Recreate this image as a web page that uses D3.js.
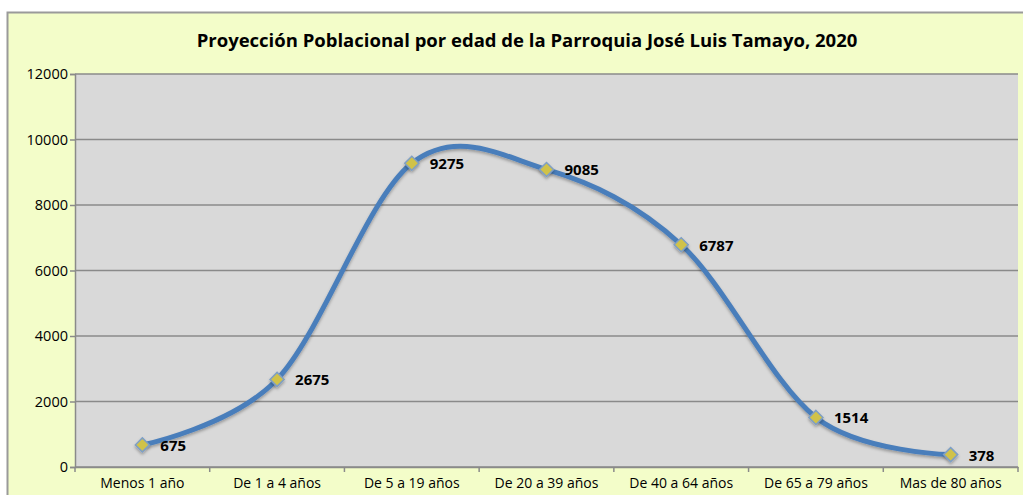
<!DOCTYPE html>
<html>
<head>
<meta charset="utf-8">
<script src="https://cdn.jsdelivr.net/npm/d3@7"></script>
<style>
	body { margin: 0; background: #ffffff; }
	svg { display: block; font-family: "Open Sans", "Noto Sans", sans-serif; }
	.tick text { fill: #000; }
</style>
</head>
<body>
<svg id="chart" width="1023" height="495"></svg>
<script>
var categories = ["Menos 1 año ", "De 1 a 4 años ", "De 5 a 19 años ", "De 20 a 39 años ", "De 40 a 64 años ", "De 65 a 79 años ", "Mas de 80 años "];
var poblacion = [675, 2675, 9275, 9085, 6787, 1514, 378];
var yTicks = [0, 2000, 4000, 6000, 8000, 10000, 12000];
var title = "Proyección Poblacional por edad de la Parroquia José Luis Tamayo, 2020 ";

var svg = d3.select("#chart");
var plotLeft = 75, plotRight = 1018, plotTop = 74, plotBottom = 467;
var fuente = "'Open Sans', 'Noto Sans', sans-serif";

// fondo del grafico
svg.append("rect")
	.attr("x", 7.5).attr("y", 12.5)
	.attr("width", 1030).attr("height", 500)
	.attr("fill", "#f3fdc9")
	.attr("stroke", "#9a9a9a")
	.attr("stroke-width", 2);

var x = d3.scaleBand().domain(categories).range([plotLeft, plotRight]);
var y = d3.scaleLinear().domain([0, 12000]).range([plotBottom, plotTop]);

svg.append("rect")
	.attr("x", plotLeft).attr("y", plotTop)
	.attr("width", plotRight - plotLeft).attr("height", plotBottom - plotTop)
	.attr("fill", "#d9d9d9");

// lineas de division
svg.append("g")
	.selectAll("line")
	.data(yTicks)
	.enter()
	.append("line")
	.attr("x1", plotLeft).attr("x2", plotRight)
	.attr("y1", function(d){ return y(d); })
	.attr("y2", function(d){ return y(d); })
	.attr("stroke", "#8a8a8a")
	.attr("stroke-width", 1.5);

var yAxis = svg.append("g")
	.attr("transform", "translate(" + plotLeft + ",0)")
	.call(d3.axisLeft(y).tickValues(yTicks).tickSize(5).tickPadding(2).tickFormat(function(d){ return d + " "; }));
yAxis.attr("font-family", fuente).attr("font-size", 14.5);

var xAxis = svg.append("g")
	.attr("transform", "translate(0," + plotBottom + ")")
	.call(d3.axisBottom(x).tickSize(0).tickPadding(11));
xAxis.attr("font-family", fuente).attr("font-size", 14);

// marcas del eje x en los bordes de cada categoria
svg.append("g")
	.selectAll("line")
	.data(categories.concat(["fin"]))
	.enter()
	.append("line")
	.attr("x1", function(d, i){ return plotLeft + i * x.bandwidth(); })
	.attr("x2", function(d, i){ return plotLeft + i * x.bandwidth(); })
	.attr("y1", plotBottom).attr("y2", plotBottom + 5)
	.attr("stroke", "#8a8a8a")
	.attr("stroke-width", 1.5);

svg.selectAll(".domain").attr("stroke", "#8a8a8a").attr("stroke-width", 1.5);
svg.selectAll(".tick line").attr("stroke", "#8a8a8a").attr("stroke-width", 1.5);

var cx = function(d, i){ return x(categories[i]) + x.bandwidth() / 2; };

var line = d3.line()
	.x(function(d, i){ return cx(d, i); })
	.y(function(d){ return y(d); })
	.curve(d3.curveCardinal.tension(0));

var defs = svg.append("defs");
var shadow = defs.append("filter").attr("id", "sombra").attr("x", "-50%").attr("y", "-50%").attr("width", "200%").attr("height", "200%");
shadow.append("feDropShadow").attr("dx", 0).attr("dy", 2).attr("stdDeviation", 1.5).attr("flood-color", "#000").attr("flood-opacity", 0.3);

svg.append("path")
	.datum(poblacion)
	.attr("d", line)
	.attr("fill", "none")
	.attr("stroke", "#4a7ebb")
	.attr("stroke-width", 5)
	.attr("filter", "url(#sombra)");

svg.append("g")
	.selectAll("path")
	.data(poblacion)
	.enter()
	.append("path")
	.attr("d", "M0,-7L7,0L0,7L-7,0Z")
	.attr("transform", function(d, i){ return "translate(" + cx(d, i) + "," + y(d) + ")"; })
	.attr("fill", "#d0c24a")
	.attr("stroke", "#7f9fc4")
	.attr("stroke-width", 1.5)
	.attr("filter", "url(#sombra)");

svg.append("g")
	.selectAll("text")
	.data(poblacion)
	.enter()
	.append("text")
	.attr("x", function(d, i){ return cx(d, i) + 18; })
	.attr("y", function(d){ return y(d) + 6; })
	.attr("font-size", 15)
	.attr("font-weight", "bold")
	.text(function(d){ return d + " "; });

svg.append("text")
	.attr("x", 527)
	.attr("y", 47)
	.attr("text-anchor", "middle")
	.attr("font-size", 18.5)
	.attr("font-weight", "bold")
	.text(title);
</script>
</body>
</html>
